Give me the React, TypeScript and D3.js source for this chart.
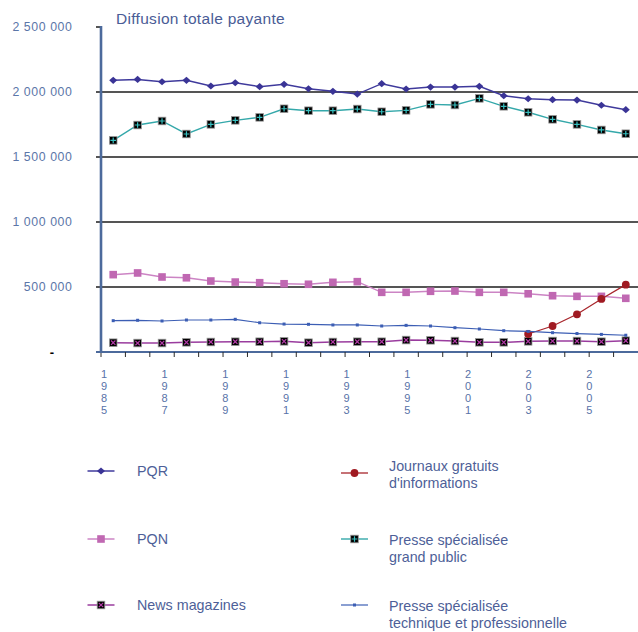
import * as d3 from "d3";

const YEARS = [
  "1985", "1986", "1987", "1988", "1989", "1990", "1991", "1992", "1993", "1994", "1995",
  "1996", "1997", "1998", "1999", "2000", "2001", "2002", "2003", "2004", "2005", "2006",
];
const TICK_LABELS = ["1985", "1987", "1989", "1991", "1993", "1995", "2001", "2003", "2005"];
const Y_TICKS = [0, 500000, 1000000, 1500000, 2000000, 2500000];

const PQR = [2090000, 2097000, 2079000, 2090000, 2046000, 2071000, 2041000, 2059000, 2025000, 2005000, 1984000,
  2064000, 2023000, 2038000, 2038000, 2044000, 1971000, 1948000, 1941000, 1938000, 1898000, 1864000];
const PQN = [595000, 608000, 577000, 571000, 546000, 538000, 533000, 525000, 521000, 536000, 541000,
  459000, 459000, 467000, 469000, 459000, 459000, 448000, 433000, 428000, 428000, 413000];
const NEWS_MAG = [71500, 69000, 69000, 74500, 77000, 79000, 79000, 82000, 71500, 77000, 79000,
  79000, 92000, 90000, 84500, 74500, 74500, 82000, 84500, 84500, 79000, 87000];
const GRATUITS = [null, null, null, null, null, null, null, null, null, null, null,
  null, null, null, null, null, null, 138500, 200000, 290000, 408000, 518000];
const GRAND_PUBLIC = [1628000, 1746000, 1777000, 1677000, 1751000, 1782000, 1805000, 1871000, 1856000, 1856000, 1869000,
  1848000, 1859000, 1905000, 1900000, 1951000, 1890000, 1844000, 1790000, 1751000, 1708000, 1679000];
const TECHNIQUE = [241000, 244000, 238500, 246000, 246000, 251500, 225000, 215000, 213000, 208000, 208000,
  200000, 205000, 200000, 187000, 177000, 164000, 158000, 148500, 142000, 135500, 129000];

type Series = { name: string[]; values: (number | null)[]; line: string; width: number; marker: string; color: string };

const SERIES: Series[] = [
  { name: ["PQR"], values: PQR, line: "#3f3a9c", width: 1.5, marker: "diamond", color: "#3a3496" },
  { name: ["PQN"], values: PQN, line: "#cc84c4", width: 1.5, marker: "square", color: "#c068b2" },
  { name: ["News magazines"], values: NEWS_MAG, line: "#9a3c9e", width: 1.5, marker: "cross", color: "#b43aa8" },
  { name: ["Journaux gratuits", "d'informations"], values: GRATUITS, line: "#a8262c", width: 1.3, marker: "circle", color: "#a01a22" },
  { name: ["Presse spécialisée", "grand public"], values: GRAND_PUBLIC, line: "#34a8aa", width: 1.4, marker: "plus", color: "#36c0c0" },
  { name: ["Presse spécialisée", "technique et professionnelle"], values: TECHNIQUE, line: "#3c5eb4", width: 1.2, marker: "dot", color: "#3c5eb4" },
];

const W = 638, H = 632;
const LEFT = 101, RIGHT = 638, TOP = 27, BOTTOM = 352;
const FONT = "'Liberation Sans', Arial, Helvetica, sans-serif";
const TEXT = "#4e5f98";

function Marker({ kind, color, x, y }: { kind: string; color: string; x: number; y: number }) {
  const t = `translate(${x},${y})`;
  if (kind === "diamond") return <path transform={t} d="M0,-3.6L4,0L0,3.6L-4,0Z" fill={color} />;
  if (kind === "square") return <rect transform={t} x={-3.8} y={-3.8} width={7.6} height={7.6} fill={color} />;
  if (kind === "circle") return <circle cx={x} cy={y} r={3.9} fill={color} />;
  if (kind === "dot") return <rect transform={t} x={-1.5} y={-1.5} width={3} height={3} fill={color} />;
  const inner = kind === "plus"
    ? <path d="M0,-2.8V2.8M-2.8,0H2.8" stroke={color} strokeWidth={1.2} />
    : <path d="M-2.2,-2.2L2.2,2.2M2.2,-2.2L-2.2,2.2" stroke={color} strokeWidth={1.2} />;
  return (
    <g transform={t}>
      <rect x={-3.8} y={-3.8} width={7.6} height={7.6} fill="#000" stroke="#9a9a9a" strokeWidth={0.8} />
      {inner}
    </g>
  );
}

export default function App() {
  const x = d3.scaleBand().domain(YEARS).range([LEFT, RIGHT]).padding(0);
  const cx = (yr: string) => (x(yr) as number) + x.bandwidth() / 2;
  const y = d3.scaleLinear().domain([0, 2500000]).range([BOTTOM, TOP]);
  const lab = d3.scaleBand().domain(TICK_LABELS).range([LEFT, LEFT + 546]);
  const fmt = (v: number) => (v === 0 ? "-" : d3.format(",")(v).replace(/,/g, " "));

  const line = d3.line<number | null>()
    .defined(d => d != null)
    .x((_, i) => cx(YEARS[i]))
    .y(d => y(d as number));

  const legendRows = [471, 539, 605];
  const legendText = [-5, 1, 1];

  return (
    <svg width={W} height={H} style={{ position: "absolute", left: 0, top: 0, background: "#fff" }} fontFamily={FONT}>
      <text x={116} y={23.5} fontSize={15.5} fill="#4a5c96" letterSpacing={0.3}>Diffusion totale payante</text>

      {/* grid + y ticks */}
      {Y_TICKS.map(v => (
        <g key={v}>
          <line x1={96} x2={v === 0 || v === 2500000 ? LEFT : RIGHT} y1={y(v)} y2={y(v)} stroke="#1c1c1c" strokeWidth={1.5} />
          {v === 0
            ? <text x={52} y={y(v)} dy="0.35em" fontSize={13} fontWeight="bold" textAnchor="middle" fill="#000">-</text>
            : <text x={72.5} y={y(v)} dy="0.35em" fontSize={12.3} letterSpacing={0.6} textAnchor="end" fill="#5b76a8">{fmt(v)}</text>}
        </g>
      ))}

      {/* x axis */}
      <line x1={96} x2={RIGHT} y1={BOTTOM} y2={BOTTOM} stroke="#4c6a9c" strokeWidth={1.8} />
      {YEARS.map(yr => (
        <line key={yr} x1={x(yr)} x2={x(yr)} y1={BOTTOM} y2={BOTTOM + 5} stroke="#2a2a2a" strokeWidth={1} />
      ))}
      {TICK_LABELS.map(t => (
        <text key={t} x={(lab(t) as number) + 3} y={374} fontSize={11} fill="#5872a8" textAnchor="middle">
          {t.split("").map((c, i) => (
            <tspan key={i} x={(lab(t) as number) + 3} dy={i === 0 ? "0.35em" : 12}>{c}</tspan>
          ))}
        </text>
      ))}
      <line x1={LEFT} x2={LEFT} y1={TOP - 1} y2={BOTTOM + 1} stroke="#4c6a9c" strokeWidth={2.6} />

      {/* series */}
      {SERIES.map(s => (
        <g key={s.name.join(" ")}>
          <path d={line(s.values) || ""} fill="none" stroke={s.line} strokeWidth={s.width} />
          {s.values.map((v, i) => v == null ? null : (
            <Marker key={i} kind={s.marker} color={s.color} x={cx(YEARS[i])} y={y(v)} />
          ))}
        </g>
      ))}

      {/* legend */}
      {SERIES.map((s, i) => {
        const col = Math.floor(i / 3), row = i % 3;
        const sx = col === 0 ? 101 : 354.5;
        const tx = col === 0 ? 137 : 389;
        const sy = legendRows[row] + (col === 1 && row === 0 ? 2 : 0);
        const ty = col === 0 ? legendRows[row] : legendRows[row] + legendText[row];
        return (
          <g key={i}>
            <line x1={sx - 13.5} x2={sx + 13.5} y1={sy} y2={sy} stroke={s.line} strokeWidth={s.width} />
            <Marker kind={s.marker} color={s.color} x={sx} y={sy} />
            <text x={tx} y={ty} fontSize={14.3} fill={TEXT}>
              {s.name.map((n, k) => (
                <tspan key={k} x={tx} dy={k === 0 ? "0.35em" : 17}>{n}</tspan>
              ))}
            </text>
          </g>
        );
      })}
    </svg>
  );
}
